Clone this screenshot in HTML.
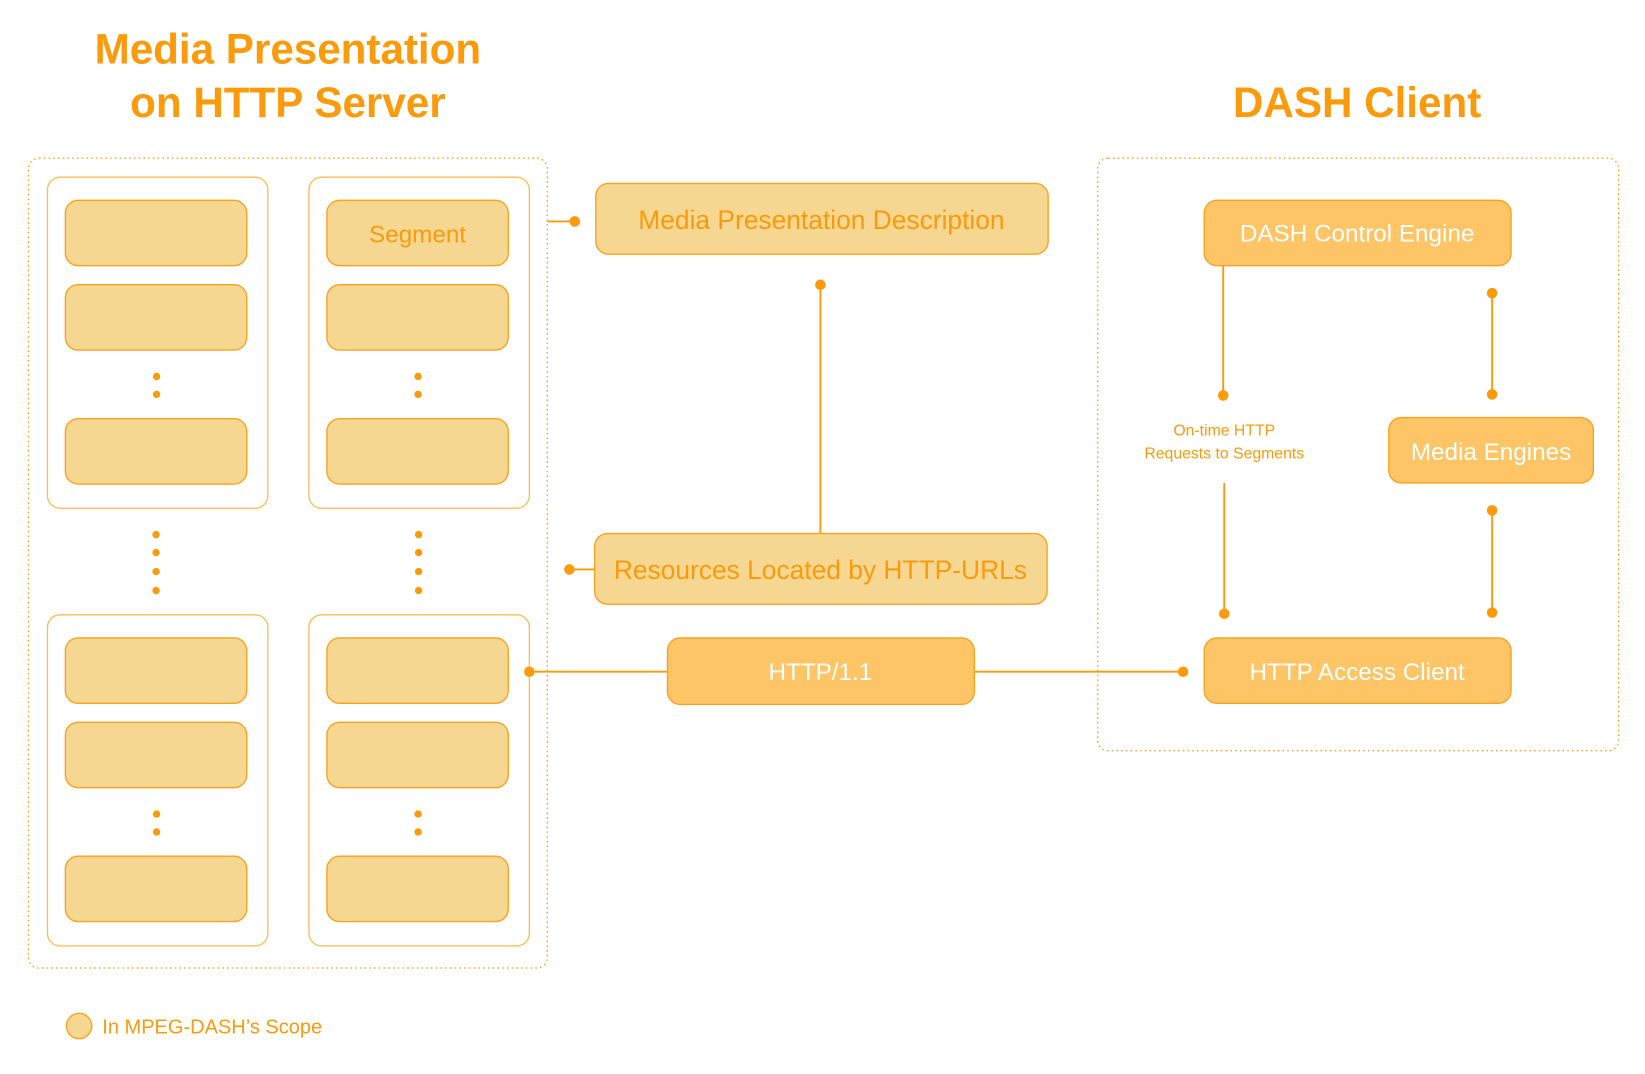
<!DOCTYPE html>
<html><head><meta charset="utf-8"><style>
html,body{margin:0;padding:0;background:#fff;width:1645px;height:1074px;overflow:hidden}
svg{display:block}
text{font-family:"Liberation Sans",sans-serif}
</style></head><body>
<svg width="1645" height="1074" viewBox="0 0 1560 1018.5" preserveAspectRatio="none" xmlns="http://www.w3.org/2000/svg">
<defs>
<g id="seg"><rect width="172" height="62" rx="12" fill="#f6d791" stroke="#f9a21e" stroke-width="1.3"/></g>
<g id="col">
<rect x="0" y="0" width="209" height="314" rx="12" fill="#fff" stroke="#fbbf58" stroke-width="1.3"/>
<use href="#seg" x="17" y="22"/><use href="#seg" x="17" y="102"/><use href="#seg" x="17" y="229"/>
<circle cx="103.5" cy="189" r="3.5" fill="#fb9a0b"/><circle cx="103.5" cy="206" r="3.5" fill="#fb9a0b"/>
</g>
</defs>
<g fill="#fb9a0b" font-weight="bold" font-size="40" text-anchor="middle">
<text x="273" y="60">Media Presentation</text>
<text x="273" y="111">on HTTP Server</text>
<text x="1287" y="111">DASH Client</text>
</g>
<rect x="27" y="150" width="492" height="768" rx="10" fill="none" stroke="#fb9a0b" stroke-width="1.2" stroke-dasharray="1.5 3"/>
<rect x="1041" y="150" width="494" height="562" rx="10" fill="none" stroke="#fb9a0b" stroke-width="1.2" stroke-dasharray="1.5 3"/>
<use href="#col" x="45" y="168"/><use href="#col" x="293" y="168"/>
<use href="#col" x="45" y="583"/><use href="#col" x="293" y="583"/>
<g fill="#fb9a0b">
<circle cx="148" cy="507" r="3.5"/><circle cx="148" cy="524" r="3.5"/><circle cx="148" cy="542" r="3.5"/><circle cx="148" cy="560" r="3.5"/>
<circle cx="397" cy="507" r="3.5"/><circle cx="397" cy="524" r="3.5"/><circle cx="397" cy="542" r="3.5"/><circle cx="397" cy="560" r="3.5"/>
</g>
<text x="396" y="230" font-size="23" fill="#fb9a0b" text-anchor="middle">Segment</text>
<g stroke="#fb9a0b" stroke-width="1.8" fill="none">
<line x1="519" y1="210" x2="545" y2="210"/>
<line x1="778" y1="270" x2="778" y2="506"/>
<line x1="540" y1="540" x2="564" y2="540"/>
<line x1="502" y1="637" x2="1122" y2="637"/>
<line x1="1160" y1="252" x2="1160" y2="375"/>
<line x1="1161" y1="458" x2="1161" y2="582"/>
<line x1="1415" y1="278" x2="1415" y2="374"/>
<line x1="1415" y1="484" x2="1415" y2="581"/>
</g>
<g fill="#fb9a0b">
<circle cx="545" cy="210" r="5"/><circle cx="778" cy="270" r="5"/><circle cx="540" cy="540" r="5"/>
<circle cx="502" cy="637" r="5"/><circle cx="1122" cy="637" r="5"/>
<circle cx="1160" cy="375" r="5"/><circle cx="1161" cy="582" r="5"/>
<circle cx="1415" cy="278" r="5"/><circle cx="1415" cy="374" r="5"/><circle cx="1415" cy="484" r="5"/><circle cx="1415" cy="581" r="5"/>
</g>
<rect x="565" y="174" width="429" height="67" rx="12" fill="#f6d791" stroke="#f9a21e" stroke-width="1.3"/>
<text x="779" y="217" font-size="25" fill="#fb9a0b" text-anchor="middle">Media Presentation Description</text>
<rect x="564" y="506" width="429" height="67" rx="12" fill="#f6d791" stroke="#f9a21e" stroke-width="1.3"/>
<text x="778" y="549" font-size="25" fill="#fb9a0b" text-anchor="middle">Resources Located by HTTP-URLs</text>
<g fill="#fdc566" stroke="#f9a21e" stroke-width="1.3">
<rect x="633" y="605" width="291" height="63" rx="12"/>
<rect x="1142" y="190" width="291" height="62" rx="12"/>
<rect x="1317" y="396" width="194" height="62" rx="12"/>
<rect x="1142" y="605" width="291" height="62" rx="12"/>
</g>
<g fill="#fff" font-size="23" text-anchor="middle">
<text x="778" y="645">HTTP/1.1</text>
<text x="1287" y="229">DASH Control Engine</text>
<text x="1414" y="436">Media Engines</text>
<text x="1287" y="645">HTTP Access Client</text>
</g>
<g fill="#fb9a0b" font-size="15" text-anchor="middle">
<text x="1161" y="413">On-time HTTP</text>
<text x="1161" y="435">Requests to Segments</text>
</g>
<circle cx="75" cy="973" r="12" fill="#f6d791" stroke="#f9a21e" stroke-width="1.3"/>
<text x="97" y="980" font-size="19" fill="#fb9a0b">In MPEG-DASH’s Scope</text>
</svg>
</body></html>
